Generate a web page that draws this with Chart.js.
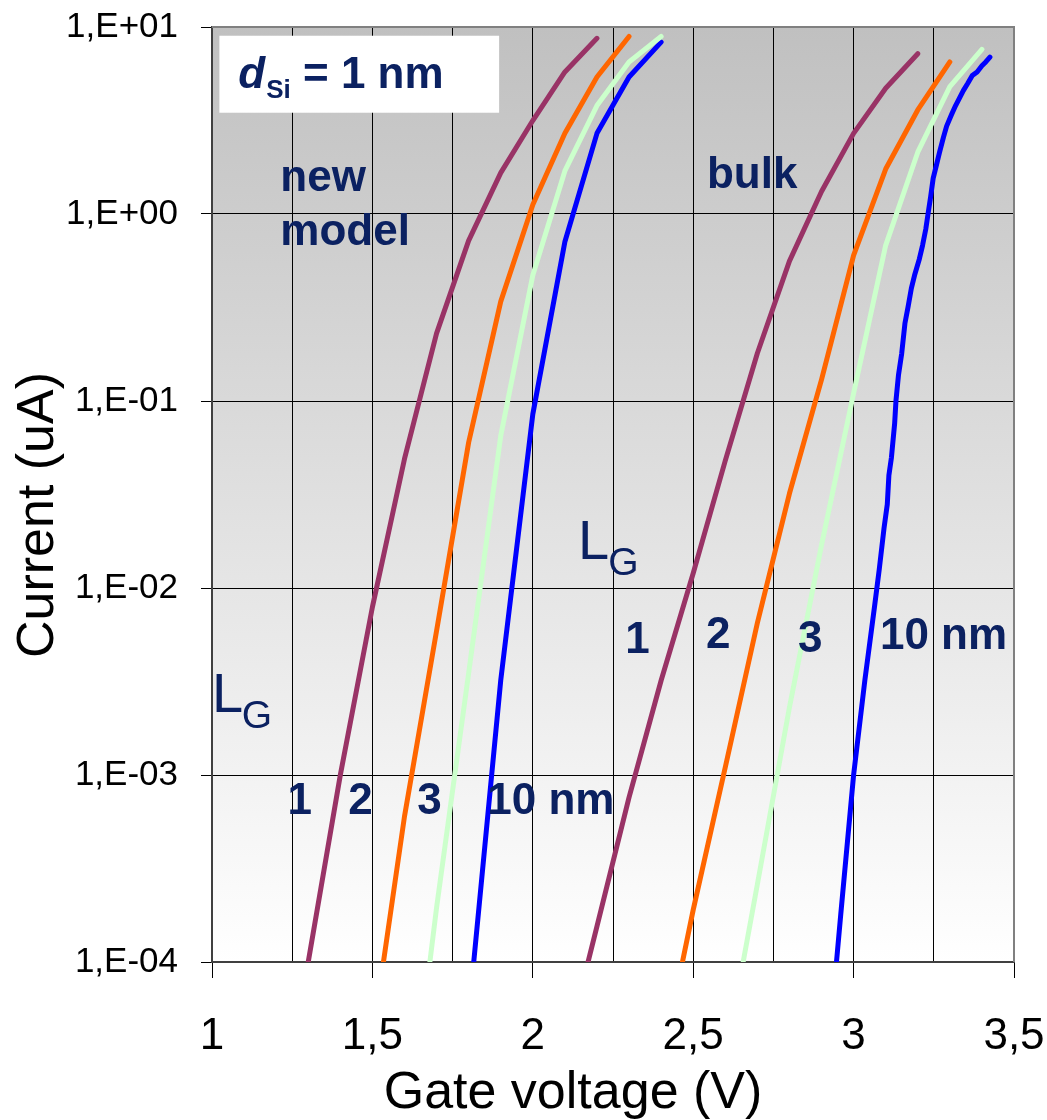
<!DOCTYPE html>
<html>
<head>
<meta charset="utf-8">
<title>Gate voltage vs current</title>
<script src="https://cdn.jsdelivr.net/npm/chart.js@4.4.0/dist/chart.umd.min.js"></script>
<style>
  html, body { margin: 0; padding: 0; background: #fff; }
</style>
</head>
<body>
<canvas id="ivChart" width="1047" height="1120"></canvas>
<script>
// gate voltage (V) / current (uA), new model, L_G = 1, 2, 3, 10 nm
var vNew1 = [1.3, 1.4, 1.5, 1.6, 1.7, 1.8, 1.9, 2.0, 2.1, 2.2];
var iNew1 = [1.0e-4, 1.0e-3, 7.9e-3, 4.9e-2, 0.23, 0.72, 1.66, 3.16, 5.75, 8.7];
var vNew2 = [1.5, 1.6, 1.7, 1.8, 1.9, 2.0, 2.1, 2.2, 2.3];
var iNew2 = [3.9e-5, 6.0e-4, 5.9e-3, 6.0e-2, 0.34, 1.12, 2.7, 5.4, 8.9];
var vNew3 = [1.6, 1.7, 1.8, 1.9, 2.0, 2.1, 2.2, 2.3, 2.4];
var iNew3 = [7.9e-6, 1.95e-4, 3.5e-3, 6.5e-2, 0.47, 1.7, 3.8, 6.5, 8.9];
var vNew10 = [1.8, 1.9, 2.0, 2.1, 2.2, 2.3, 2.4];
var iNew10 = [5.2e-5, 3.2e-3, 8.5e-2, 0.71, 2.7, 5.4, 8.3];

// bulk
var vBulk1 = [2.1, 2.2, 2.3, 2.4, 2.5, 2.6, 2.7, 2.8, 2.9, 3.0, 3.1, 3.2];
var iBulk1 = [3.2e-5, 1.55e-4, 7.6e-4, 3.2e-3, 1.2e-2, 4.8e-2, 0.18, 0.56, 1.32, 2.7, 4.7, 7.2];
var vBulk2 = [2.4, 2.5, 2.6, 2.7, 2.8, 2.9, 3.0, 3.1, 3.2, 3.3];
var iBulk2 = [2.8e-5, 1.9e-4, 1.1e-3, 6.5e-3, 3.2e-2, 0.13, 0.60, 1.74, 3.6, 6.5];
var vBulk3 = [2.6, 2.7, 2.8, 2.9, 3.0, 3.1, 3.2, 3.3, 3.4];
var iBulk3 = [3.0e-5, 2.6e-4, 2.3e-3, 1.7e-2, 0.11, 0.68, 2.14, 4.8, 7.6];
var vBulk10 = [2.92, 2.96, 3.0, 3.035, 3.065, 3.08, 3.095, 3.105, 3.11, 3.118, 3.128, 3.132,
               3.14, 3.15, 3.16, 3.17, 3.18, 3.19, 3.205, 3.215, 3.225, 3.232, 3.24, 3.248,
               3.258, 3.268, 3.28, 3.29, 3.305, 3.318, 3.33, 3.342, 3.356, 3.37, 3.385, 3.4,
               3.412, 3.425];
var iBulk10 = [3.1e-5, 1.8e-4, 1.0e-3, 3.2e-3, 7.9e-3, 1.26e-2, 2.1e-2, 2.8e-2, 4.0e-2, 5.0e-2, 7.6e-2, 0.10,
               0.138, 0.18, 0.26, 0.32, 0.40, 0.47, 0.575, 0.68, 0.83, 1.0, 1.23, 1.55,
               1.82, 2.14, 2.57, 2.95, 3.39, 3.8, 4.17, 4.57, 5.0, 5.5, 5.75, 6.2,
               6.5, 6.9];

var xTickLabels = ['1', '1,5', '2', '2,5', '3', '3,5'];
var yTickValues = [1e-4, 1e-3, 1e-2, 1e-1, 1, 10];
var yTickLabels = ['1,E-04', '1,E-03', '1,E-02', '1,E-01', '1,E+00', '1,E+01'];

var PURPLE = '#993366', ORANGE = '#ff6600', MINT = '#ccffcc', BLUE = '#0000ff';
var NAVY = '#0b2161';
var FONT = '"Liberation Sans", Arial, sans-serif';

function toPoints(v, cur) {
  return v.map(function (x, k) { return { x: x, y: cur[k] }; });
}

function curve(label, color, v, cur) {
  return {
    label: label,
    data: toPoints(v, cur),
    borderColor: color,
    backgroundColor: color,
    borderWidth: 5,
    pointRadius: 0,
    tension: 0,
    fill: false,
    borderCapStyle: 'round',
    borderJoinStyle: 'round'
  };
}

// fixed axis sizes, no extra room for overhanging labels
function fixSize(size) {
  return function (scale) {
    if (scale.isHorizontal()) scale.height = size; else scale.width = size;
    scale.paddingTop = 0;
    scale.paddingBottom = 0;
    scale.paddingLeft = 0;
    scale.paddingRight = 0;
  };
}

// grey gradient behind the grid, grey frame on top and right
var plotBackground = {
  id: 'plotBackground',
  beforeDraw: function (chart) {
    var a = chart.chartArea, ctx = chart.ctx;
    var g = ctx.createLinearGradient(0, a.top, 0, a.bottom);
    g.addColorStop(0, '#c0c0c0');
    g.addColorStop(1, '#ffffff');
    ctx.save();
    ctx.fillStyle = g;
    ctx.fillRect(a.left, a.top, a.right - a.left, a.bottom - a.top);
    ctx.restore();
  },
  afterDraw: function (chart) {
    var a = chart.chartArea, ctx = chart.ctx;
    ctx.save();
    ctx.strokeStyle = '#808080';
    ctx.lineWidth = 2;
    ctx.beginPath();
    ctx.moveTo(a.left, a.top);
    ctx.lineTo(a.right, a.top);
    ctx.lineTo(a.right, a.bottom);
    ctx.stroke();
    ctx.restore();
  }
};

// in-plot notes: thickness box, group names, gate lengths
var notes = {
  id: 'notes',
  afterDatasetsDraw: function (chart) {
    var ctx = chart.ctx, xs = chart.scales.x, ys = chart.scales.y;
    function px(v) { return xs.getPixelForValue(v); }
    function py(c) { return ys.getPixelForValue(c); }

    ctx.save();
    ctx.textAlign = 'left';
    ctx.textBaseline = 'alphabetic';

    // d_Si box
    var bx = px(1.023), by = py(8.98);
    ctx.fillStyle = '#ffffff';
    ctx.fillRect(bx, by, px(1.895) - bx, py(3.48) - by);

    ctx.fillStyle = NAVY;
    var x = px(1.082), y = py(4.73);
    ctx.font = 'italic bold 44px ' + FONT;
    ctx.fillText('d', x, y);
    x += ctx.measureText('d').width + 1;
    ctx.font = 'bold 26px ' + FONT;
    ctx.fillText('Si', x, y + 10);
    x += ctx.measureText('Si').width;
    ctx.font = 'bold 44px ' + FONT;
    ctx.fillText(' = 1 nm', x, y);

    ctx.fillText('new', px(1.213), py(1.32));
    ctx.fillText('model', px(1.213), py(0.685));
    ctx.fillText('bulk', px(2.543), py(1.38));

    ctx.fillText('1', px(1.235), py(6.2e-4));
    ctx.fillText('2', px(1.425), py(6.2e-4));
    ctx.fillText('3', px(1.640), py(6.2e-4));
    ctx.fillText('10 nm', px(1.858), py(6.2e-4));

    ctx.fillText('1', px(2.288), py(4.5e-3));
    ctx.fillText('2', px(2.540), py(4.8e-3));
    ctx.fillText('3', px(2.827), py(4.56e-3));
    ctx.fillText('10 nm', px(3.082), py(4.73e-3));

    // L_G labels
    ctx.font = '56px ' + FONT;
    ctx.fillText('L', px(2.141), py(1.436e-2));
    ctx.fillText('L', px(1.0), py(2.18e-3));
    ctx.font = '39px ' + FONT;
    ctx.fillText('G', px(2.235), py(1.178e-2));
    ctx.fillText('G', px(1.093), py(1.78e-3));
    ctx.restore();
  }
};

// axis titles
var axisTitles = {
  id: 'axisTitles',
  afterDraw: function (chart) {
    var ctx = chart.ctx;
    ctx.save();
    ctx.fillStyle = '#000';
    ctx.font = '52px ' + FONT;
    ctx.textAlign = 'center';
    ctx.textBaseline = 'alphabetic';
    ctx.fillText('Gate voltage (V)', 573, 1108);
    ctx.translate(39, 515);
    ctx.rotate(-Math.PI / 2);
    ctx.textBaseline = 'middle';
    ctx.fillText('Current (uA)', 0, 0);
    ctx.restore();
  }
};

var ctx = document.getElementById('ivChart').getContext('2d');

var ivChart = new Chart(ctx, {
  type: 'line',
  data: {
    datasets: [
      curve('new model, 1 nm', PURPLE, vNew1, iNew1),
      curve('new model, 2 nm', ORANGE, vNew2, iNew2),
      curve('new model, 3 nm', MINT, vNew3, iNew3),
      curve('new model, 10 nm', BLUE, vNew10, iNew10),
      curve('bulk, 1 nm', PURPLE, vBulk1, iBulk1),
      curve('bulk, 2 nm', ORANGE, vBulk2, iBulk2),
      curve('bulk, 3 nm', MINT, vBulk3, iBulk3),
      curve('bulk, 10 nm', BLUE, vBulk10, iBulk10)
    ]
  },
  options: {
    responsive: false,
    animation: false,
    devicePixelRatio: 1,
    layout: { padding: { top: 27, right: 33, bottom: 0, left: 0 } },
    plugins: {
      legend: { display: false },
      tooltip: { enabled: false },
      title: { display: false }
    },
    scales: {
      x: {
        type: 'linear',
        min: 1,
        max: 3.5,
        afterFit: fixSize(158),
        ticks: {
          stepSize: 0.25,
          autoSkip: false,
          maxRotation: 0,
          padding: 32,
          color: '#000',
          font: { family: FONT, size: 44 },
          callback: function (value, index) {
            return index % 2 === 0 ? xTickLabels[index / 2] : '';
          }
        },
        grid: {
          color: '#000',
          lineWidth: 1,
          tickLength: 16,
          tickColor: function (c) { return c.index % 2 === 0 ? '#000' : 'rgba(0,0,0,0)'; }
        },
        border: { color: '#404040', width: 2 }
      },
      y: {
        type: 'logarithmic',
        min: 1e-4,
        max: 10,
        afterFit: fixSize(212),
        afterBuildTicks: function (scale) {
          scale.ticks = yTickValues.map(function (v) { return { value: v }; });
        },
        ticks: {
          padding: 23,
          color: '#000',
          font: { family: FONT, size: 35 },
          callback: function (value, index) { return yTickLabels[index]; }
        },
        grid: {
          color: '#000',
          lineWidth: 1,
          tickLength: 11,
          tickColor: '#000'
        },
        border: { color: '#404040', width: 2 }
      }
    }
  },
  plugins: [plotBackground, notes, axisTitles]
});
</script>
</body>
</html>
